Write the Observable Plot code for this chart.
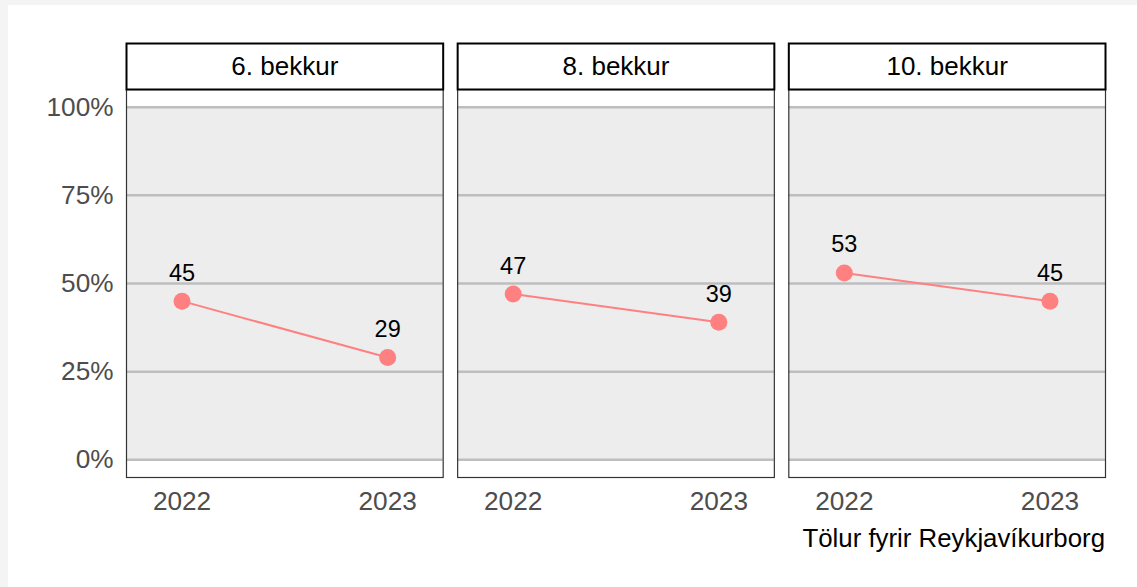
<!DOCTYPE html>
<html>
<head>
<meta charset="utf-8">
<script src="https://cdn.jsdelivr.net/npm/d3@7"></script>
<script src="https://cdn.jsdelivr.net/npm/@observablehq/plot@0.6"></script>
<style>
  html, body { margin: 0; padding: 0; background: #f4f4f4; }
  #card { position: absolute; left: 8px; top: 5px; width: 1129px; height: 582px; background: #ffffff; }
  #card figure { margin: 0; }
  #card figcaption { text-align: right; padding-right: 32px; padding-top: 2px; font-family: "Liberation Sans", Arial, sans-serif; font-size: 25.8px; color: #000; }
  svg text { font-family: "Liberation Sans", Arial, sans-serif; }
</style>
</head>
<body>
<div id="card"></div>
<script>
// Data
const grades = ["6. bekkur", "8. bekkur", "10. bekkur"];
const years = [2022, 2023];
const values6 = [45, 29];
const values8 = [47, 39];
const values10 = [53, 45];
const yTicks = [0, 25, 50, 75, 100];
const bandRange = [0, 100];
const caption = "Tölur fyrir Reykjavíkurborg";

const seriesByGrade = [values6, values8, values10];
const data = [];
grades.forEach((g, i) => years.forEach((y, j) => data.push({grade: g, year: y, value: seriesByGrade[i][j]})));

const W = 1129, H = 517;
const mTop = 84, mBottom = H - 472, mLeft = 118, mRight = 32;
const panelH = H - mTop - mBottom;
const stripH = 46;
const col = "#FF8080";

const plot = Plot.plot({
  width: W,
  height: H,
  marginTop: mTop,
  marginBottom: mBottom,
  marginLeft: mLeft,
  marginRight: mRight,
  style: {fontFamily: '"Liberation Sans", Arial, sans-serif', background: "transparent"},
  caption: caption,
  fx: {domain: grades, paddingInner: 0.0437, paddingOuter: 0, round: false, label: null, axis: null},
  x: {domain: [2021.73, 2023.27], label: null},
  y: {domain: [-5, 105], label: null},
  marks: [
    // gray band 0-100
    Plot.rect(grades, {fx: d => d, y1: () => bandRange[0], y2: () => bandRange[1], fill: "#ededed"}),
    // grid lines
    Plot.ruleY(yTicks, {stroke: "#bebebe", strokeWidth: 2.5}),
    // panel border
    Plot.frame({stroke: "#333333", strokeWidth: 1.2}),
    // strip box
    Plot.frame({stroke: "#000000", strokeWidth: 2, fill: "#ffffff", insetTop: -stripH, insetBottom: panelH}),
    Plot.text(grades, {fx: d => d, text: d => d, frameAnchor: "top", dy: -stripH / 2, lineAnchor: "middle", fontSize: 26, fill: "#000000"}),
    // axes
    Plot.axisY(yTicks, {tickFormat: d => d + "%", tickSize: 0, tickPadding: 13, fontSize: 26.2, fill: "#4d4d4d", label: null}),
    Plot.axisX(years, {tickFormat: d => String(d), tickSize: 0, tickPadding: 14, fontSize: 26.2, fill: "#4d4d4d", label: null}),
    // series
    Plot.line(data, {fx: "grade", x: "year", y: "value", stroke: col, strokeWidth: 2}),
    Plot.dot(data, {fx: "grade", x: "year", y: "value", fill: col, r: 8.5}),
    Plot.text(data, {fx: "grade", x: "year", y: "value", text: d => String(d.value), dy: -28, fontSize: 23.5, fill: "#000000"})
  ]
});
document.getElementById("card").appendChild(plot);
</script>
</body>
</html>
